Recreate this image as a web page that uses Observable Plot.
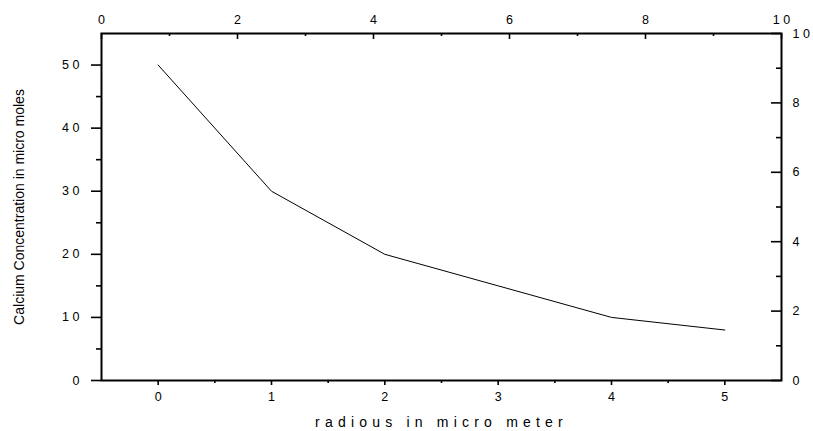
<!DOCTYPE html>
<html>
<head>
<meta charset="utf-8">
<script src="https://cdn.jsdelivr.net/npm/d3@7"></script>
<script src="https://cdn.jsdelivr.net/npm/@observablehq/plot@0.6"></script>
<style>
  html, body { margin: 0; padding: 0; background: #fff; }
</style>
</head>
<body>
<div id="chart"></div>
<script>
// Data
const radius = [0, 1, 2, 3, 4, 5];
const calcium = [50, 30, 20, 15, 10, 8];

// Axis titles
const xTitle = "radious in micro meter";
const yTitle = "Calcium Concentration in micro moles";

// Tick values
const bottomMajor = [0, 1, 2, 3, 4, 5];
const bottomMinor = [0.5, 1.5, 2.5, 3.5, 4.5];
const leftMajor = [0, 10, 20, 30, 40, 50];
const leftMinor = [5, 15, 25, 35, 45];
const topMajor = [0, 2, 4, 6, 8, 10];
const topMinor = [1, 3, 5, 7, 9];
const rightMajor = [0, 2, 4, 6, 8, 10];
const rightMinor = [1, 3, 5, 7, 9];

const xDomain = [-0.5, 5.5];
const yDomain = [0, 55];

const W = 813, H = 431;
const mL = 101, mR = 32, mT = 33, mB = 51;
const plotW = W - mL - mR, plotH = H - mT - mB;

// secondary axes (0..10) mapped onto the primary scales
const topToX = v => xDomain[0] + v * (xDomain[1] - xDomain[0]) / 10;
const rightToY = v => yDomain[0] + v * (yDomain[1] - yDomain[0]) / 10;
const spaced = n => String(n).split("").join(" ");

const data = radius.map((r, i) => ({r, c: calcium[i]}));
const FS = 12.5;

const chart = Plot.plot({
  width: W,
  height: H,
  marginLeft: mL,
  marginRight: mR,
  marginTop: mT,
  marginBottom: mB,
  style: {fontFamily: "'Liberation Sans', Arial, sans-serif", fontSize: "12px", background: "#fff", color: "#000"},
  x: {domain: xDomain},
  y: {domain: yDomain},
  marks: [
    // bottom axis
    Plot.axisX({anchor: "bottom", ticks: bottomMajor, tickSize: 5, tickPadding: 7, strokeWidth: 1.6, fontSize: FS,
      tickFormat: d => spaced(d), label: null}),
    Plot.axisX({anchor: "bottom", ticks: bottomMinor, tickSize: 3, strokeWidth: 1.6, tickFormat: () => "", label: null}),
    // left axis
    Plot.axisY({anchor: "left", ticks: leftMajor, tickSize: 10, tickPadding: 12, strokeWidth: 1.6, fontSize: FS,
      tickFormat: d => spaced(d), label: null}),
    Plot.axisY({anchor: "left", ticks: leftMinor, tickSize: 5, strokeWidth: 1.6, tickFormat: () => "", label: null}),
    // top axis (labels)
    Plot.axisX({anchor: "top", ticks: topMajor.map(topToX), tickSize: 0, tickPadding: 10, fontSize: FS,
      tickFormat: d => spaced(Math.round((d - xDomain[0]) * 10 / (xDomain[1] - xDomain[0]))), label: null}),
    // top axis inward ticks
    Plot.ruleX(topMajor.map(topToX), {x: d => d, insetBottom: plotH - 6, strokeWidth: 1.6}),
    Plot.ruleX(topMinor.map(topToX), {x: d => d, insetBottom: plotH - 3, strokeWidth: 1.6}),
    // right axis (labels)
    Plot.axisY({anchor: "right", ticks: rightMajor.map(rightToY), tickSize: 0, tickPadding: 11, fontSize: FS,
      tickFormat: d => spaced(Math.round((d - yDomain[0]) * 10 / (yDomain[1] - yDomain[0]))), label: null}),
    // right axis inward ticks
    Plot.ruleY(rightMajor.map(rightToY), {y: d => d, insetLeft: plotW - 10, strokeWidth: 1.6}),
    Plot.ruleY(rightMinor.map(rightToY), {y: d => d, insetLeft: plotW - 5, strokeWidth: 1.6}),
    // frame
    Plot.frame({stroke: "#000", strokeWidth: 2}),
    // data line
    Plot.line(data, {x: "r", y: "c", stroke: "#000", strokeWidth: 1}),
    // axis titles
    Plot.text([xTitle], {text: d => d, frameAnchor: "bottom", dy: 42, lineAnchor: "middle",
      textAnchor: "middle", fontSize: 14}),
    Plot.text([yTitle], {text: d => d, frameAnchor: "left", dx: -82, rotate: -90, lineAnchor: "middle",
      textAnchor: "middle", fontSize: 14})
  ]
});

// letter spacing for the x title
chart.querySelectorAll("text").forEach(t => {
  if (t.textContent === xTitle) t.style.letterSpacing = "5.2px";
});

document.getElementById("chart").appendChild(chart);
</script>
</body>
</html>
